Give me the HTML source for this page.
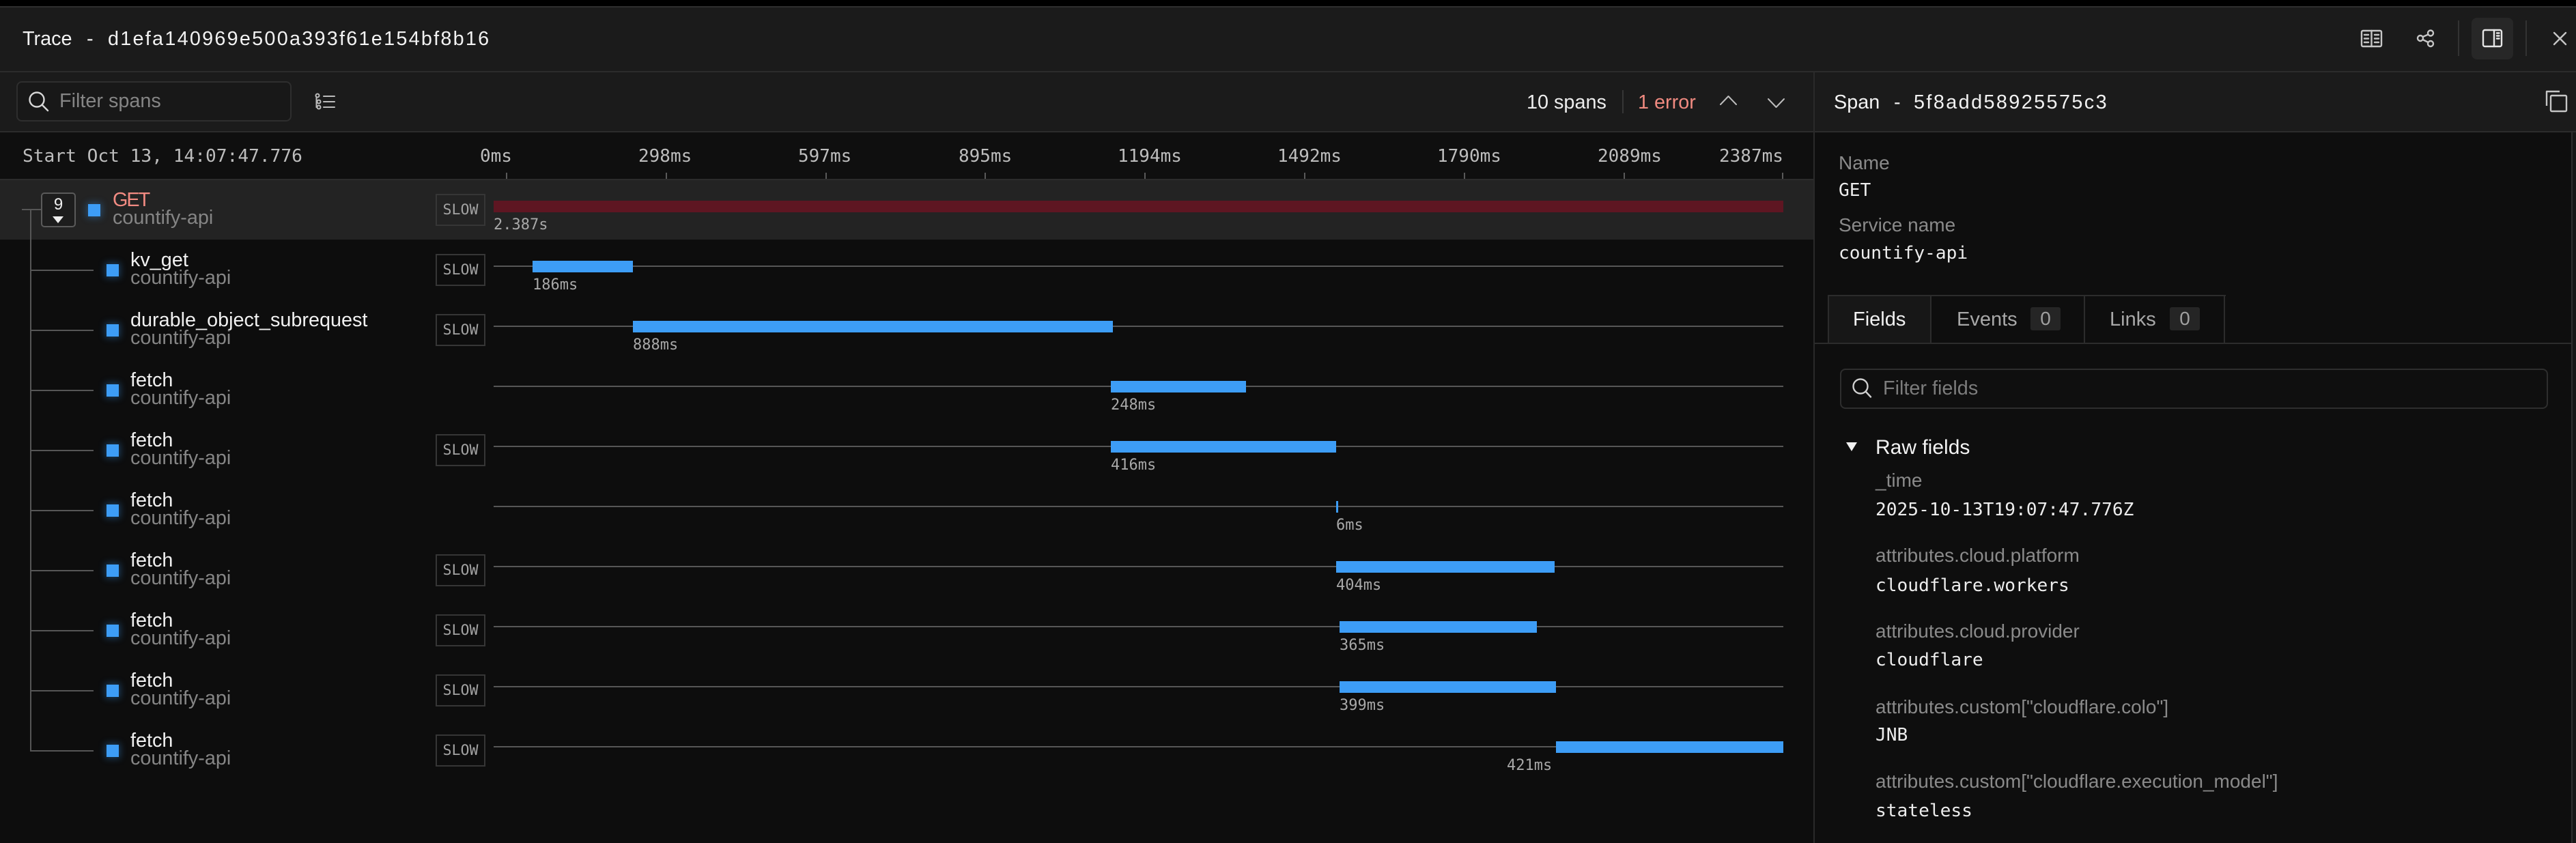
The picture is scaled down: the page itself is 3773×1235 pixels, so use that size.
<!DOCTYPE html>
<html><head><meta charset="utf-8"><style>
*{box-sizing:border-box;margin:0;padding:0}
html,body{width:3773px;height:1235px;overflow:hidden;background:#0e0e0e}
body{position:relative;font-family:"Liberation Sans",Arial,sans-serif;color:#ededed}
.a{position:absolute}
.s{font-family:"Liberation Sans",Arial,sans-serif;font-size:28.8px;line-height:28.8px;white-space:nowrap;position:absolute}
.m{font-family:"DejaVu Sans Mono","Liberation Mono",monospace;white-space:nowrap;position:absolute}
.tick{position:absolute;top:253px;width:2px;height:9px;background:#5a5a5a}
.tl{font-family:"DejaVu Sans Mono","Liberation Mono",monospace;font-size:26px;line-height:26px;top:216px;color:#bdbdbd;position:absolute;white-space:nowrap}
.line{position:absolute;left:723px;width:1889px;height:2px;background:#565656}
.bar{position:absolute;height:17px;background:#3d9df6}
.lbl{font-family:"DejaVu Sans Mono","Liberation Mono",monospace;font-size:22px;line-height:22px;color:#a8a8a8;position:absolute;white-space:nowrap}
.slow{position:absolute;left:638px;width:73px;height:47px;border:2px solid #363636;font-family:"DejaVu Sans Mono","Liberation Mono",monospace;font-size:21.6px;line-height:43px;text-align:center;color:#a3a3a3}
.sq{position:absolute;left:156px;width:18px;height:18px;background:#3d9df6;box-shadow:0 0 10px 2px rgba(61,157,246,0.35)}
.nm{color:#f0f0f0;left:191px}
.sv{color:#858585;left:191px}
.br{position:absolute;left:45px;width:92px;height:2px;background:#565656}
.fl{font-size:28px;line-height:28px;color:#8a8a8a;left:2747px}
.fv{font-size:26.2px;line-height:26.2px;color:#ececec;left:2747px}
</style></head><body>

<!-- top strip -->
<div class="a" style="left:0;top:0;width:3773px;height:9px;background:#000"></div>
<div class="a" style="left:0;top:9px;width:3773px;height:2px;background:#2f2f2f"></div>
<div class="a" style="left:0;top:11px;width:3773px;height:93px;background:#1b1b1b"></div>
<div class="a" style="left:0;top:104px;width:3773px;height:2px;background:#2c2c2c"></div>

<div class="s" style="left:33px;top:42.6px;color:#f2f2f2">Trace</div>
<div class="s" style="left:127px;top:42.6px;color:#f2f2f2">-</div>
<div class="s" style="left:158px;top:42.6px;color:#f2f2f2;letter-spacing:2.25px">d1efa140969e500a393f61e154bf8b16</div>

<!-- header icons -->
<svg class="a" style="left:3450px;top:20px" width="323" height="80" viewBox="3450 20 323 80">
  <g fill="none" stroke="#c6c6c6" stroke-width="2.4" stroke-linecap="round">
    <rect x="3459" y="45" width="29" height="23" rx="2"/>
    <line x1="3473.5" y1="45" x2="3473.5" y2="68"/>
    <line x1="3463" y1="51" x2="3469" y2="51"/><line x1="3463" y1="56.5" x2="3469" y2="56.5"/><line x1="3463" y1="62" x2="3469" y2="62"/>
    <line x1="3478" y1="51" x2="3484" y2="51"/><line x1="3478" y1="56.5" x2="3484" y2="56.5"/><line x1="3478" y1="62" x2="3484" y2="62"/>
    <circle cx="3560" cy="48.5" r="4"/><circle cx="3545" cy="56" r="4"/><circle cx="3560" cy="64" r="4"/>
    <line x1="3548.5" y1="54" x2="3556.5" y2="50.5"/><line x1="3548.5" y1="58" x2="3556.5" y2="62"/>
  </g>
  <rect x="3600" y="30" width="2" height="52" fill="#333"/>
  <rect x="3620" y="26" width="61" height="61" rx="8" fill="#272727"/>
  <g fill="none" stroke="#e6e6e6" stroke-width="2.4" stroke-linecap="round">
    <rect x="3637" y="44" width="27" height="24" rx="2.5"/>
    <line x1="3653" y1="44" x2="3653" y2="68"/>
    <line x1="3657" y1="48.5" x2="3660.5" y2="48.5"/><line x1="3657" y1="52.5" x2="3660.5" y2="52.5"/><line x1="3657" y1="56.5" x2="3660.5" y2="56.5"/>
  </g>
  <rect x="3699" y="30" width="2" height="52" fill="#333"/>
  <g stroke="#c6c6c6" stroke-width="2.4" stroke-linecap="round">
    <line x1="3741" y1="48" x2="3758" y2="65"/><line x1="3758" y1="48" x2="3741" y2="65"/>
  </g>
</svg>

<!-- toolbar -->
<div class="a" style="left:0;top:106px;width:3773px;height:86px;background:#1b1b1b"></div>
<div class="a" style="left:0;top:192px;width:3773px;height:2px;background:#2c2c2c"></div>

<div class="a" style="left:24px;top:119px;width:403px;height:59px;border:2px solid #2e2e2e;border-radius:8px;background:#181818"></div>
<svg class="a" style="left:36px;top:130px" width="44" height="40" viewBox="36 130 44 40">
  <g fill="none" stroke="#d8d8d8" stroke-width="2.4" stroke-linecap="round">
    <circle cx="54" cy="146" r="10.5"/><line x1="61.5" y1="153.5" x2="70" y2="162"/>
  </g>
</svg>
<div class="s" style="left:87px;top:134px;color:#858585">Filter spans</div>

<svg class="a" style="left:458px;top:133px" width="40" height="32" viewBox="458 133 40 32">
  <g fill="none" stroke="#bdbdbd" stroke-width="2" stroke-linecap="round">
    <circle cx="465" cy="140" r="2.5"/><circle cx="467" cy="149" r="2.5"/><circle cx="467" cy="157" r="2.5"/>
    <line x1="463.5" y1="142.5" x2="463.5" y2="157"/><line x1="463.5" y1="149" x2="464.5" y2="149"/><line x1="463.5" y1="157" x2="464.5" y2="157"/>
    <line x1="474" y1="141" x2="490" y2="141"/><line x1="474" y1="149" x2="490" y2="149"/><line x1="474" y1="157" x2="490" y2="157"/>
  </g>
</svg>

<div class="s" style="left:2236px;top:135.6px;color:#ededed">10 spans</div>
<div class="a" style="left:2376px;top:132px;width:2px;height:34px;background:#363636"></div>
<div class="s" style="left:2399px;top:135.6px;color:#f08a80">1 error</div>
<svg class="a" style="left:2515px;top:135px" width="105" height="28" viewBox="2515 135 105 28">
  <g fill="none" stroke="#bdbdbd" stroke-width="2" stroke-linecap="round" stroke-linejoin="round">
    <polyline points="2520,153 2531.5,141 2543,153"/>
    <polyline points="2590,145 2601.5,157 2613,145"/>
  </g>
</svg>

<!-- right panel header -->
<div class="s" style="left:2686px;top:135.6px;color:#f2f2f2">Span</div>
<div class="s" style="left:2774px;top:135.6px;color:#f2f2f2">-</div>
<div class="s" style="left:2803px;top:135.6px;color:#f2f2f2;letter-spacing:2.4px">5f8add58925575c3</div>
<svg class="a" style="left:3725px;top:130px" width="40" height="38" viewBox="3725 130 40 38">
  <g fill="none" stroke="#c6c6c6" stroke-width="2.4" stroke-linejoin="round">
    <polyline points="3730,155 3730,134 3749,134"/>
    <rect x="3736" y="140" width="23" height="23" rx="1.5"/>
  </g>
</svg>

<!-- main divider -->
<div class="a" style="left:2656px;top:106px;width:2px;height:1129px;background:#2a2a2a"></div>

<!-- column header row -->
<div class="a" style="left:0;top:194px;width:2656px;height:68px;background:#0f0f0f"></div>
<div class="a" style="left:0;top:262px;width:2656px;height:2px;background:#2c2c2c"></div>
<div class="m" style="left:33px;top:216px;font-size:26.2px;line-height:26.2px;color:#bdbdbd">Start Oct 13, 14:07:47.776</div>
<div class="tl" style="left:703px">0ms</div>
<div class="tl" style="left:935px">298ms</div>
<div class="tl" style="left:1169px">597ms</div>
<div class="tl" style="left:1404px">895ms</div>
<div class="tl" style="left:1637px">1194ms</div>
<div class="tl" style="left:1871px">1492ms</div>
<div class="tl" style="left:2105px">1790ms</div>
<div class="tl" style="left:2340px">2089ms</div>
<div class="tl" style="left:2518px">2387ms</div>
<div class="tick" style="left:741px"></div>
<div class="tick" style="left:975px"></div>
<div class="tick" style="left:1209px"></div>
<div class="tick" style="left:1442px"></div>
<div class="tick" style="left:1676px"></div>
<div class="tick" style="left:1910px"></div>
<div class="tick" style="left:2144px"></div>
<div class="tick" style="left:2378px"></div>
<div class="tick" style="left:2610px"></div>

<!-- rows area bg -->
<div class="a" style="left:0;top:264px;width:2656px;height:971px;background:#0d0d0d"></div>
<!-- selected GET row -->
<div class="a" style="left:0;top:264px;width:2656px;height:87px;background:#232323"></div>

<!-- tree lines -->
<div class="a" style="left:44px;top:306px;width:2px;height:795px;background:#565656"></div>
<div class="a" style="left:32px;top:306px;width:28px;height:2px;background:#565656"></div>

<!-- Row 0 GET (T=263) -->
<div class="a" style="left:60px;top:282px;width:51px;height:51px;border:2px solid #5a5a5a;border-radius:5px;background:#1d1d1d"></div>
<div class="a" style="left:60px;top:288px;width:51px;text-align:center;font-size:24px;line-height:24px;color:#f0f0f0">9</div>
<svg class="a" style="left:76px;top:316px" width="18" height="12" viewBox="0 0 18 12"><polygon points="1,1 17,1 9,11" fill="#f0f0f0"/></svg>
<div class="sq" style="left:129px;top:299px"></div>
<div class="s" style="left:165px;top:278.6px;color:#f28b82;letter-spacing:-2px">GET</div>
<div class="s" style="left:165px;top:304.6px;color:#858585">countify-api</div>
<div class="slow" style="top:284px">SLOW</div>
<div class="bar" style="left:723px;top:294px;width:1889px;background:#5e1622"></div>
<div class="lbl" style="left:723px;top:319.4px">2.387s</div>

<!-- Row 1 kv_get (T=351) -->
<div class="br" style="top:395px"></div>
<div class="sq" style="top:387px"></div>
<div class="s nm" style="top:366.6px">kv_get</div>
<div class="s sv" style="top:392.6px">countify-api</div>
<div class="slow" style="top:372px">SLOW</div>
<div class="line" style="top:389px"></div>
<div class="bar" style="left:780px;top:382px;width:147px"></div>
<div class="lbl" style="left:780px;top:407.4px">186ms</div>

<!-- Row 2 durable (T=439) -->
<div class="br" style="top:483px"></div>
<div class="sq" style="top:475px"></div>
<div class="s nm" style="top:454.6px">durable_object_subrequest</div>
<div class="s sv" style="top:480.6px">countify-api</div>
<div class="slow" style="top:460px">SLOW</div>
<div class="line" style="top:477px"></div>
<div class="bar" style="left:927px;top:470px;width:703px"></div>
<div class="lbl" style="left:927px;top:495.4px">888ms</div>

<!-- Row 3 fetch 248 (T=527) -->
<div class="br" style="top:571px"></div>
<div class="sq" style="top:563px"></div>
<div class="s nm" style="top:542.6px">fetch</div>
<div class="s sv" style="top:568.6px">countify-api</div>
<div class="line" style="top:565px"></div>
<div class="bar" style="left:1627px;top:558px;width:198px"></div>
<div class="lbl" style="left:1627px;top:583.4px">248ms</div>

<!-- Row 4 fetch 416 (T=615) -->
<div class="br" style="top:659px"></div>
<div class="sq" style="top:651px"></div>
<div class="s nm" style="top:630.6px">fetch</div>
<div class="s sv" style="top:656.6px">countify-api</div>
<div class="slow" style="top:636px">SLOW</div>
<div class="line" style="top:653px"></div>
<div class="bar" style="left:1627px;top:646px;width:330px"></div>
<div class="lbl" style="left:1627px;top:671.4px">416ms</div>

<!-- Row 5 fetch 6 (T=703) -->
<div class="br" style="top:747px"></div>
<div class="sq" style="top:739px"></div>
<div class="s nm" style="top:718.6px">fetch</div>
<div class="s sv" style="top:744.6px">countify-api</div>
<div class="line" style="top:741px"></div>
<div class="bar" style="left:1957px;top:734px;width:3px"></div>
<div class="lbl" style="left:1957px;top:759.4px">6ms</div>

<!-- Row 6 fetch 404 (T=791) -->
<div class="br" style="top:835px"></div>
<div class="sq" style="top:827px"></div>
<div class="s nm" style="top:806.6px">fetch</div>
<div class="s sv" style="top:832.6px">countify-api</div>
<div class="slow" style="top:812px">SLOW</div>
<div class="line" style="top:829px"></div>
<div class="bar" style="left:1957px;top:822px;width:320px"></div>
<div class="lbl" style="left:1957px;top:847.4px">404ms</div>

<!-- Row 7 fetch 365 (T=879) -->
<div class="br" style="top:923px"></div>
<div class="sq" style="top:915px"></div>
<div class="s nm" style="top:894.6px">fetch</div>
<div class="s sv" style="top:920.6px">countify-api</div>
<div class="slow" style="top:900px">SLOW</div>
<div class="line" style="top:917px"></div>
<div class="bar" style="left:1962px;top:910px;width:289px"></div>
<div class="lbl" style="left:1962px;top:935.4px">365ms</div>

<!-- Row 8 fetch 399 (T=967) -->
<div class="br" style="top:1011px"></div>
<div class="sq" style="top:1003px"></div>
<div class="s nm" style="top:982.6px">fetch</div>
<div class="s sv" style="top:1008.6px">countify-api</div>
<div class="slow" style="top:988px">SLOW</div>
<div class="line" style="top:1005px"></div>
<div class="bar" style="left:1962px;top:998px;width:317px"></div>
<div class="lbl" style="left:1962px;top:1023.4px">399ms</div>

<!-- Row 9 fetch 421 (T=1055) -->
<div class="br" style="top:1099px"></div>
<div class="sq" style="top:1091px"></div>
<div class="s nm" style="top:1070.6px">fetch</div>
<div class="s sv" style="top:1096.6px">countify-api</div>
<div class="slow" style="top:1076px">SLOW</div>
<div class="line" style="top:1093px"></div>
<div class="bar" style="left:2279px;top:1086px;width:333px"></div>
<div class="lbl" style="left:2207px;top:1111.4px">421ms</div>

<!-- right panel content -->
<div class="a" style="left:2658px;top:194px;width:1108px;height:1041px;background:#0e0e0e"></div>
<div class="a" style="left:3766px;top:194px;width:2px;height:1041px;background:#2e2e2e"></div>
<div class="a" style="left:3768px;top:194px;width:5px;height:1041px;background:#161616"></div>

<div class="s fl" style="left:2693px;top:225px">Name</div>
<div class="m fv" style="left:2693px;top:265.8px">GET</div>
<div class="s fl" style="left:2693px;top:316px">Service name</div>
<div class="m fv" style="left:2693px;top:357.8px">countify-api</div>

<!-- tabs -->
<div class="a" style="left:2677px;top:432px;width:151px;height:71px;background:#171717"></div>
<div class="a" style="left:2677px;top:432px;width:583px;height:2px;background:#2c2c2c"></div>
<div class="a" style="left:2677px;top:432px;width:2px;height:71px;background:#2c2c2c"></div>
<div class="a" style="left:2827px;top:432px;width:2px;height:71px;background:#2c2c2c"></div>
<div class="a" style="left:3052px;top:432px;width:2px;height:71px;background:#2c2c2c"></div>
<div class="a" style="left:3257px;top:432px;width:2px;height:71px;background:#2c2c2c"></div>
<div class="a" style="left:2658px;top:502px;width:1108px;height:2px;background:#2c2c2c"></div>
<div class="s" style="left:2714px;top:453.5px;font-size:29px;line-height:29px;color:#f2f2f2">Fields</div>
<div class="s" style="left:2866px;top:453.5px;font-size:29px;line-height:29px;color:#a8a8a8">Events</div>
<div class="a" style="left:2974px;top:450px;width:44px;height:34px;background:#252525;border-radius:3px;color:#a0a0a0;font-size:28px;line-height:34px;text-align:center">0</div>
<div class="s" style="left:3090px;top:453.5px;font-size:29px;line-height:29px;color:#a8a8a8">Links</div>
<div class="a" style="left:3178px;top:450px;width:44px;height:34px;background:#252525;border-radius:3px;color:#a0a0a0;font-size:28px;line-height:34px;text-align:center">0</div>

<!-- filter fields -->
<div class="a" style="left:2695px;top:540px;width:1037px;height:59px;border:2px solid #2e2e2e;border-radius:8px;background:#0f0f0f"></div>
<svg class="a" style="left:2706px;top:550px" width="44" height="40" viewBox="2706 550 44 40">
  <g fill="none" stroke="#d0d0d0" stroke-width="2.4" stroke-linecap="round">
    <circle cx="2725" cy="566" r="10.5"/><line x1="2732.5" y1="573.5" x2="2740" y2="581.5"/>
  </g>
</svg>
<div class="s" style="left:2758px;top:554.6px;color:#7c7c7c">Filter fields</div>

<!-- raw fields -->
<svg class="a" style="left:2702px;top:646px" width="20" height="17" viewBox="0 0 20 17"><polygon points="2,2 18,2 10,15" fill="#f0f0f0"/></svg>
<div class="s" style="left:2747px;top:640.6px;font-size:30px;line-height:30px;color:#f2f2f2">Raw fields</div>

<div class="s fl" style="top:690.3px">_time</div>
<div class="m fv" style="top:733.8px">2025-10-13T19:07:47.776Z</div>
<div class="s fl" style="top:800.3px">attributes.cloud.platform</div>
<div class="m fv" style="top:844.8px">cloudflare.workers</div>
<div class="s fl" style="top:911.3px">attributes.cloud.provider</div>
<div class="m fv" style="top:953.8px">cloudflare</div>
<div class="s fl" style="top:1022.3px">attributes.custom["cloudflare.colo"]</div>
<div class="m fv" style="top:1063.8px">JNB</div>
<div class="s fl" style="top:1131.3px">attributes.custom["cloudflare.execution_model"]</div>
<div class="m fv" style="top:1174.8px">stateless</div>

</body></html>
